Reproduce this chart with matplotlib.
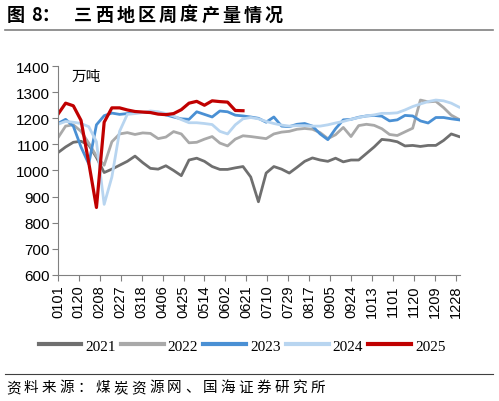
import pandas as pd
import matplotlib.pyplot as plt
from matplotlib.lines import Line2D

plt.rcParams['font.family'] = ['Liberation Sans', 'Noto Sans CJK SC', 'DejaVu Sans']

# weekly production, 万吨 (one value per week from Jan 1)
y2021 = [1068, 1090, 1108, 1112, 1098, 1050, 992, 1005, 1020, 1035, 1055, 1030, 1008, 1005,
         1018, 1000, 980, 1040, 1047, 1035, 1015, 1004, 1004, 1010, 1015, 975, 880, 990,
         1015, 1005, 990, 1012, 1035, 1048, 1040, 1035, 1047, 1033, 1040, 1040, 1065, 1090,
         1119, 1116, 1110, 1094, 1096, 1092, 1096, 1096, 1115, 1140, 1130]
y2022 = [1125, 1170, 1175, 1150, 1105, 1055, 1020, 1110, 1140, 1145, 1138, 1144, 1142, 1122,
         1128, 1149, 1140, 1106, 1108, 1120, 1130, 1105, 1094, 1120, 1133, 1130, 1126, 1122,
         1140, 1147, 1150, 1158, 1161, 1158, 1145, 1122, 1137, 1165, 1130, 1172, 1177, 1173,
         1160, 1138, 1134, 1148, 1162, 1270, 1263, 1265, 1241, 1212, 1196]
y2023 = [1180, 1196, 1170, 1090, 1025, 1175, 1210, 1220, 1215, 1218, 1222, 1222, 1222, 1220,
         1213, 1205, 1198, 1196, 1225, 1215, 1205, 1228, 1225, 1212, 1209, 1205, 1200, 1185,
         1205, 1170, 1168, 1177, 1180, 1170, 1140, 1118, 1160, 1194, 1196, 1204, 1209, 1211,
         1208, 1190, 1194, 1211, 1209, 1190, 1182, 1203, 1203, 1198, 1194]
y2024 = [1177, 1188, 1185, 1180, 1168, 1110, 870, 975, 1150, 1215, 1218, 1222, 1228, 1225,
         1218, 1209, 1195, 1183, 1183, 1180, 1176, 1150, 1140, 1175, 1198, 1203, 1198, 1188,
         1180, 1174, 1170, 1172, 1172, 1170, 1170, 1175, 1182, 1188, 1196, 1203, 1209, 1213,
         1219, 1219, 1221, 1232, 1245, 1255, 1264, 1270, 1267, 1258, 1243]
y2025 = [1215, 1258, 1248, 1192, 1030, 858, 1185, 1240, 1240, 1232, 1226, 1224, 1222, 1216,
         1214, 1218, 1233, 1258, 1265, 1250, 1267, 1264, 1262, 1230, 1229]

series = {'2021': y2021, '2022': y2022, '2023': y2023, '2024': y2024, '2025': y2025}
colors = {'2021': '#6f6f6f', '2022': '#a9a9a9', '2023': '#4a90d4',
          '2024': '#b8d5f0', '2025': '#c00000'}

# x axis is day of year, labelled every 19 days
tick_dates = pd.date_range('2021-01-01', periods=20, freq='19D')
tick_days = [(d - tick_dates[0]).days for d in tick_dates]
tick_labels = [d.strftime('%m%d') for d in tick_dates]

title_body = '三西地区周度产量情况'
source = '资料来源：煤炭资源网、国海证券研究所'

W, H = 499, 402
fig = plt.figure(figsize=(W / 100, H / 100), dpi=100)
ax = fig.add_axes([0.116, 0.314, 0.806, 0.519])

for name, vals in series.items():
    days = [7 * i for i in range(len(vals))]
    ax.plot(days, vals, color=colors[name], lw=2.3 if name == '2025' else 2.0, label=name)

ax.set_xlim(0, 365)
ax.set_ylim(600, 1400)
ax.set_yticks(range(600, 1401, 100))
ax.set_xticks(tick_days)
ax.set_xticklabels(tick_labels, rotation=90, fontsize=10.5)
ax.tick_params(axis='y', labelsize=11, length=4, color='#808080', pad=2)
ax.tick_params(axis='x', length=4, color='#808080', pad=3)
for s in ['top', 'right']:
    ax.spines[s].set_visible(False)
for s in ['left', 'bottom']:
    ax.spines[s].set_color('#808080')

ax.text(0.033, 0.955, '万吨', transform=ax.transAxes, fontsize=10.5,
        family=['Noto Sans CJK SC'], va='center')

leg = fig.legend(loc='center', bbox_to_anchor=(0.485, 0.137), ncol=5, frameon=False,
                 handlelength=2.8, columnspacing=0.35, handletextpad=0.25,
                 prop={'family': 'Liberation Serif', 'size': 11})
for line in leg.get_lines():
    line.set_linewidth(3)


def spaced_text(s, x0, y, step, **kw):
    # the report spreads its CJK characters wider than the font does
    for i, ch in enumerate(s):
        fig.text((x0 + i * step) / W, y, ch, va='center', **kw)


title_kw = dict(fontsize=13, weight='bold', family=['Noto Sans CJK SC', 'DejaVu Sans'])
fig.text(7 / W, 0.962, '图', va='center', **title_kw)
fig.text(31 / W, 0.962, '8：', va='center', **title_kw)
spaced_text(title_body, 74, 0.962, 21.2, **title_kw)

fig.add_artist(Line2D([0.01, 0.988], [0.923, 0.923], color='#808080', lw=1.2))
fig.add_artist(Line2D([0.01, 0.988], [0.066, 0.066], color='#404040', lw=0.8))
spaced_text(source, 6, 0.035, 17.9, fontsize=10.5, family=['Noto Sans CJK SC'])

fig.savefig('out.png', dpi=100)
